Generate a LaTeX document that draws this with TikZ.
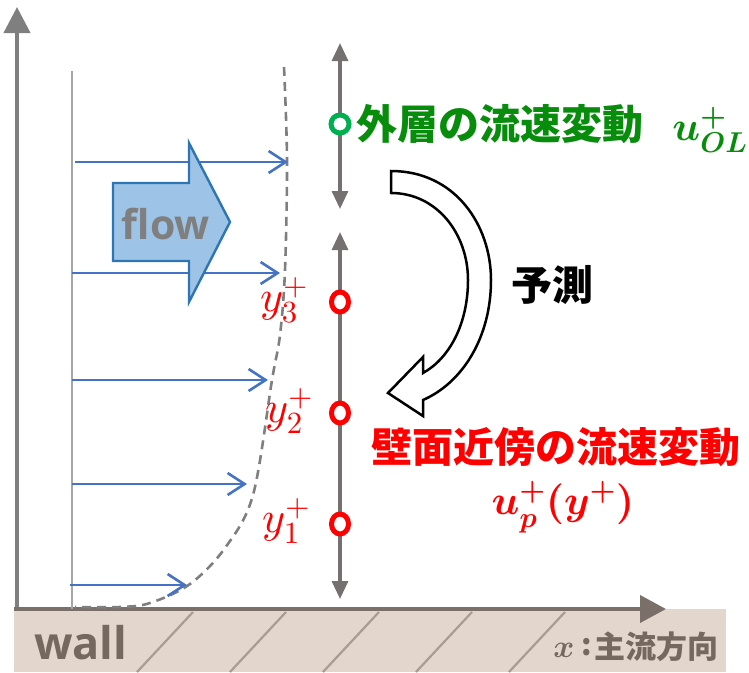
\documentclass[tikz,border=0pt]{standalone}
\usepackage{amsmath}
\usepackage{fontspec}
\setmainfont{Open Sans}
\newfontfamily\cjk{Noto Sans CJK JP}
\DeclareFontShape{OML}{cmm}{m}{it}{<->cmmi10}{}
\DeclareFontShape{OML}{cmm}{b}{it}{<->cmmib10}{}
\DeclareFontShape{OT1}{cmr}{m}{n}{<->cmr10}{}
\DeclareFontShape{OT1}{cmr}{bx}{n}{<->cmbx10}{}
\DeclareFontShape{OMS}{cmsy}{m}{n}{<->cmsy10}{}
\DeclareFontShape{OMS}{cmsy}{b}{n}{<->cmbsy10}{}
\usetikzlibrary{arrows.meta,shapes.geometric}
\definecolor{axisgray}{HTML}{7F7F7F}
\definecolor{axisbrown}{HTML}{7A7069}
\definecolor{wallfill}{HTML}{E3D7CD}
\definecolor{hatch}{HTML}{A99D93}
\definecolor{walltext}{HTML}{75695F}
\definecolor{flowblue}{HTML}{4472C4}
\definecolor{flowfill}{HTML}{9DC3E6}
\definecolor{flowedge}{HTML}{2E75B6}
\definecolor{probegray}{HTML}{767171}
\definecolor{mygreen}{HTML}{00B050}
\definecolor{textgreen}{HTML}{078C0C}
\definecolor{myred}{HTML}{FF0000}
\tikzset{
  profilearrow/.style={draw=flowblue, line width=2.6pt, -{Straight Barb[length=17pt,width=22pt,line width=2.6pt]}},
  probeline/.style={draw=probegray, line width=3.2pt, {Triangle[length=18pt,width=16pt]}-{Triangle[length=18pt,width=16pt]}},
  redring/.style={ellipse, draw=myred, line width=5pt, minimum width=17pt, minimum height=20pt, inner sep=0pt},
  greenring/.style={circle, draw=mygreen, line width=5pt, minimum size=18pt, inner sep=0pt},
  ylab/.style={text=myred, inner sep=0pt, font=\fontsize{44}{44}\selectfont},
  jpbig/.style={inner sep=0pt, font=\cjk\bfseries\fontsize{41}{41}\selectfont},
  mathbold/.style={inner sep=0pt, font=\boldmath\fontsize{41}{41}\selectfont},
}
\begin{document}
\begin{tikzpicture}[x=1pt,y=-1pt]
\useasboundingbox (0,0) rectangle (749,672);
% wall band
\fill[wallfill] (14,609) rectangle (726,672);
\foreach \t in {193,286,379,472,565}{
  \draw[hatch, line width=2.2pt] (\t,612) -- ({\t-56},672);
}
\node[anchor=west, inner sep=0pt, text=walltext, font=\bfseries\fontsize{45}{45}\selectfont] (wall) at (34,643) {wall};
\node[inner sep=0pt, text=walltext, font=\boldmath\fontsize{32}{32}\selectfont] (xlab) at (564,650) {$x$};
\node[inner sep=0pt, text=walltext, font=\cjk\bfseries\fontsize{30}{30}\selectfont] (colon) at (587,647) {:};
\node[anchor=west, inner sep=0pt, text=walltext, font=\cjk\bfseries\fontsize{31}{31}\selectfont] (dir) at (594,647) {主流方向};
% axes
\coordinate (origin) at (17,609);
\coordinate (ytop) at (17,7);
\coordinate (xend) at (666,609);
\draw[axisgray, line width=4pt, -{Triangle[width=26pt,length=26pt]}] (origin) -- (ytop);
\draw[axisbrown, line width=4pt, -{Triangle[width=27pt,length=26pt]}] (14,609) -- (xend);
% inner wall line
\coordinate (iwtop) at (72,71);
\coordinate (iwbot) at (72,609);
\draw[color={rgb,255:red,166;green,166;blue,166}, line width=2.4pt] (iwtop) -- (iwbot);
% dashed profile
\draw[axisgray, line width=2.6pt, dash pattern=on 9pt off 6pt]
  plot[smooth, tension=0.55] coordinates {(284,67) (287,160) (285,270) (280,335) (272,380) (253,495) (225,548) (190,584) (150,603) (120,607) (75,607)};
% profile arrows
\coordinate (a1s) at (75,162); \coordinate (a1e) at (288,162);
\coordinate (a2s) at (72,273); \coordinate (a2e) at (280,273);
\coordinate (a3s) at (72,380); \coordinate (a3e) at (268,380);
\coordinate (a4s) at (72,484); \coordinate (a4e) at (247,484);
\coordinate (a5s) at (70,585); \coordinate (a5e) at (187,585);
\draw[profilearrow] (a1s) -- (a1e);
\draw[profilearrow] (a2s) -- (a2e);
\draw[profilearrow] (a3s) -- (a3e);
\draw[profilearrow] (a4s) -- (a4e);
\draw[profilearrow] (a5s) -- (a5e);
% flow block arrow
\draw[fill=flowfill, draw=flowedge, line width=2.4pt, line join=miter]
  (113,183) -- (189,183) -- (189,143) -- (230,222) -- (189,302) -- (189,261) -- (113,261) -- cycle;
\node[text=axisgray, inner sep=0pt, font=\bfseries\fontsize{41}{41}\selectfont] (flow) at (166,224) {flow};
% probe lines
\coordinate (p1t) at (340,43); \coordinate (p1b) at (340,209);
\coordinate (p2t) at (340,232); \coordinate (p2b) at (340,599);
\draw[probeline] (p1t) -- (p1b);
\draw[probeline] (p2t) -- (p2b);
\node[greenring, fill=white] (g) at (340,124) {};
\node[redring, fill=white] (r3) at (340,302) {};
\node[redring, fill=white] (r2) at (340,413) {};
\node[redring, fill=white] (r1) at (340,524) {};
\node[ylab] (y3) at (284,300) {$y_3^+$};
\node[ylab] (y2) at (289,411) {$y_2^+$};
\node[ylab] (y1) at (286,521) {$y_1^+$};
% labels
\node[jpbig, text=textgreen, anchor=west] (outer) at (356,124) {外層の流速変動};
\node[mathbold, text=textgreen] (uol) at (710,130) {$u^+_{OL}$};
\node[jpbig, anchor=center] (pred) at (552,285) {予測};
\node[jpbig, text=myred, anchor=west] (near) at (371,447) {壁面近傍の流速変動};
\node[mathbold, text=myred] (up) at (563,507) {$u_p^+(y^+)$};
% hollow curved arrow
\draw[black, line width=2.5pt, fill=white, line join=miter]
  (391,171) .. controls (455,171) and (491,225) .. (491,280)
  .. controls (491,338) and (462,383) .. (423,400)
  -- (423,416) -- (388,393) -- (423,357) -- (423,373)
  .. controls (450,358) and (468,323) .. (468,280)
  .. controls (468,234) and (437,193) .. (391,193) -- cycle;
\end{tikzpicture}
\end{document}
